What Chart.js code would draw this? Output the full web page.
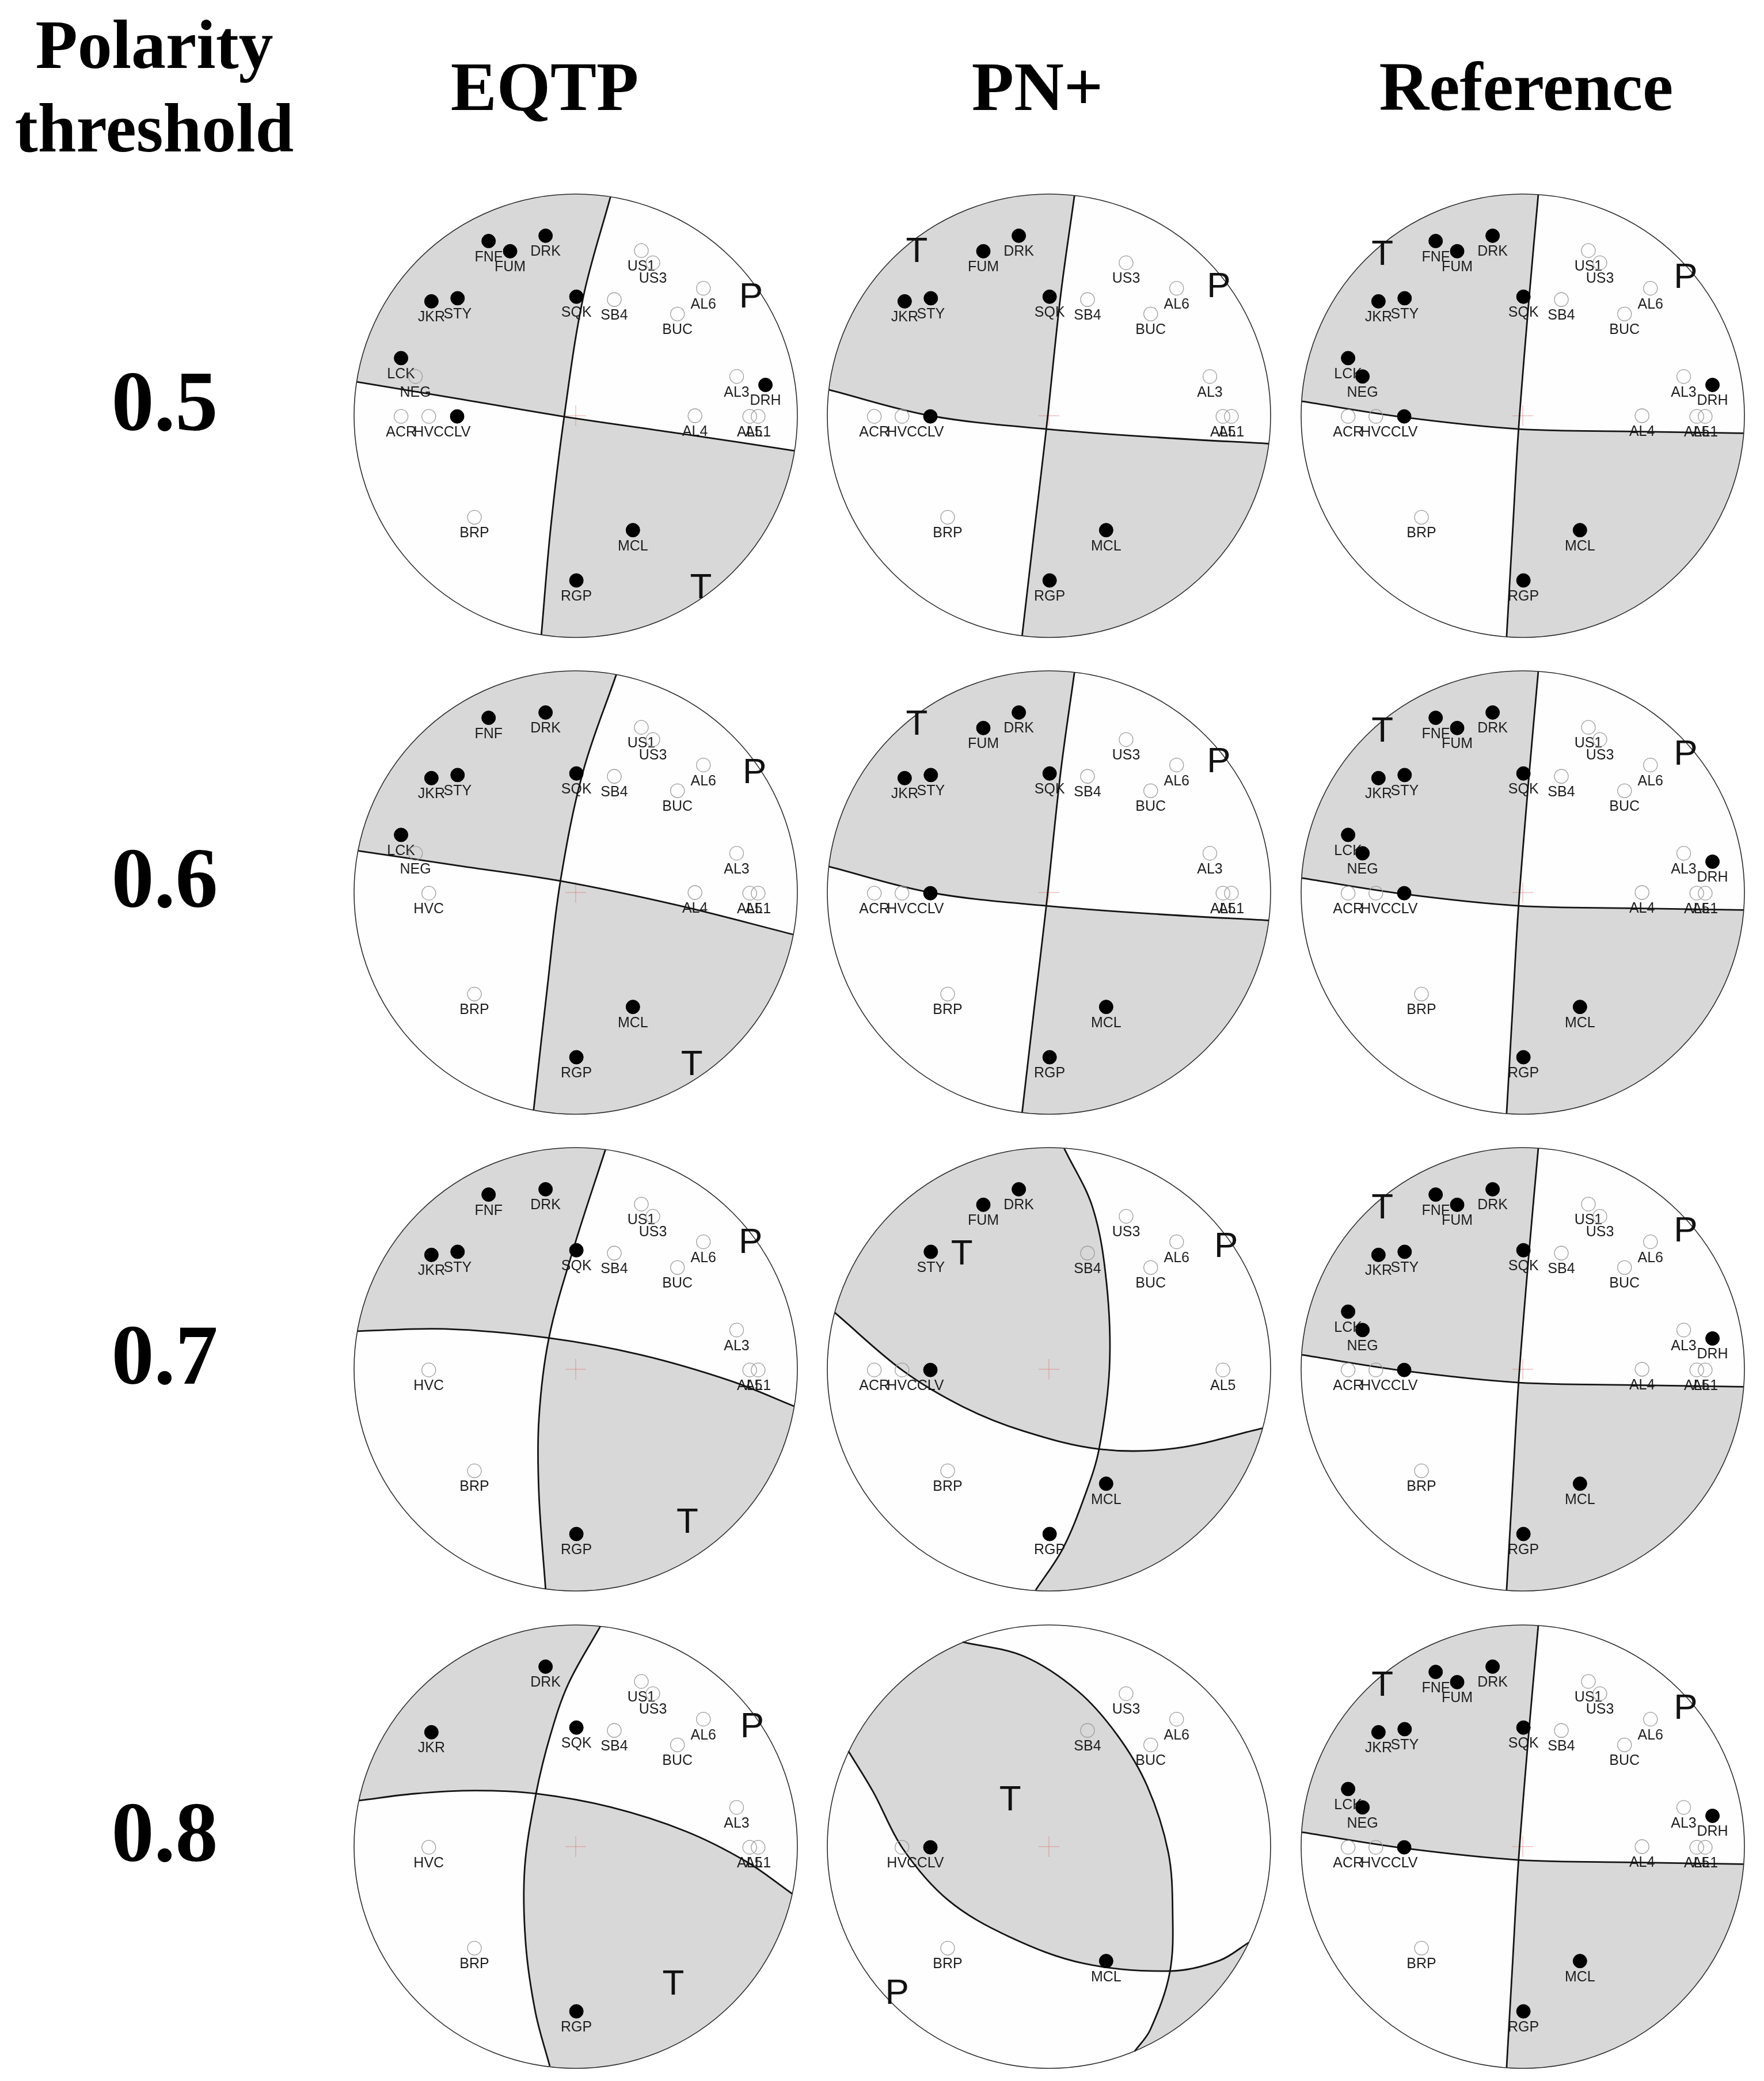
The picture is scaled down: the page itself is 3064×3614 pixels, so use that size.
<!DOCTYPE html>
<html>
<head>
<meta charset="utf-8">
<script src="https://cdn.jsdelivr.net/npm/chart.js@4.4.1/dist/chart.umd.min.js"></script>
<style>
  html, body { margin: 0; padding: 0; background: #fff; overflow: hidden; }
  body { width: 3064px; height: 3614px; position: relative; }
  .hd { position: absolute; font-family: "Liberation Serif", "Times New Roman", serif; font-weight: bold;
        color: #000; white-space: nowrap; line-height: 1; transform: translateX(-50%); }
  .ball { position: absolute; width: 820px; height: 820px; }
</style>
</head>
<body>
<script>
// station positions on the projection (unit radius, north up)
const stationNames = ['FNF','FUM','DRK','JKR','STY','SQK','US1','US3','SB4','AL6','BUC','LCK',
                      'NEG','AL3','DRH','ACR','HVC','CLV','AL4','AL5','AL1','BRP','MCL','RGP'];
const stationX = [-0.393,-0.296,-0.136,-0.651,-0.533,0.003,0.296,0.348,0.174,0.576,0.459,-0.788,
                  -0.723,0.726,0.856,-0.788,-0.663,-0.535,0.538,0.785,0.823,-0.457,0.258,0.003];
const stationY = [0.788,0.742,0.812,0.516,0.530,0.537,0.745,0.690,0.524,0.575,0.459,0.260,
                  0.177,0.177,0.139,-0.003,-0.003,-0.003,0.000,-0.003,-0.003,-0.458,-0.516,-0.743];

const methods = ['EQTP', 'PN+', 'Reference'];
const thresholds = ['0.5', '0.6', '0.7', '0.8'];

// filled = compression, open = dilatation
const eqtpUp = [
  ['FNF','FUM','DRK','JKR','STY','SQK','LCK','DRH','CLV','MCL','RGP'],
  ['FNF','DRK','JKR','STY','SQK','LCK','MCL','RGP'],
  ['FNF','DRK','JKR','STY','SQK','RGP'],
  ['DRK','JKR','SQK','RGP']
];
const eqtpDown = [
  ['US1','US3','SB4','AL6','BUC','NEG','AL3','ACR','HVC','AL4','AL5','AL1','BRP'],
  ['US1','US3','SB4','AL6','BUC','NEG','AL3','HVC','AL4','AL5','AL1','BRP'],
  ['US1','US3','SB4','AL6','BUC','AL3','HVC','AL5','AL1','BRP'],
  ['US1','US3','SB4','AL6','BUC','AL3','AL5','AL1','HVC','BRP']
];
const pnUp = [
  ['FUM','DRK','JKR','STY','SQK','CLV','MCL','RGP'],
  ['FUM','DRK','JKR','STY','SQK','CLV','MCL','RGP'],
  ['FUM','DRK','STY','CLV','MCL','RGP'],
  ['CLV','MCL']
];
const pnDown = [
  ['US3','SB4','AL6','BUC','AL3','AL5','AL1','ACR','HVC','BRP'],
  ['US3','SB4','AL6','BUC','AL3','AL5','AL1','ACR','HVC','BRP'],
  ['US3','SB4','AL6','BUC','AL5','ACR','HVC','BRP'],
  ['US3','SB4','AL6','BUC','HVC','BRP']
];
const refUp = ['FNF','FUM','DRK','JKR','STY','SQK','LCK','NEG','DRH','CLV','MCL','RGP'];
const refDown = ['US1','US3','SB4','AL6','BUC','AL3','ACR','HVC','AL4','AL5','AL1','BRP'];

// nodal planes, traced points along each curve
const eqtpPlaneA = [
  [[0.157,0.988],[0.034,0.535],[-0.052,-0.004],[-0.113,-0.507],[-0.155,-0.988]],
  [[0.183,0.983],[0.033,0.545],[-0.069,0.052],[-0.128,-0.427],[-0.190,-0.982]],
  [[0.134,0.991],[-0.012,0.538],[-0.121,0.141],[-0.166,-0.223],[-0.166,-0.563],[-0.136,-0.991]],
  [[0.111,0.994],[-0.033,0.735],[-0.114,0.504],[-0.179,0.239],[-0.230,-0.094],[-0.226,-0.433],[-0.182,-0.746],[-0.117,-0.990]]
];
const eqtpPlaneB = [
  [[-0.988,0.153],[-0.520,0.075],[-0.052,-0.004],[0.471,-0.080],[0.987,-0.158]],
  [[-0.981,0.188],[-0.522,0.120],[-0.069,0.052],[0.457,-0.057],[0.980,-0.189]],
  [[-0.985,0.172],[-0.590,0.182],[-0.121,0.141],[0.293,0.065],[0.701,-0.053],[0.986,-0.167]],
  [[-0.977,0.208],[-0.726,0.239],[-0.454,0.253],[-0.179,0.239],[0.158,0.178],[0.497,0.069],[0.769,-0.067],[0.977,-0.213]]
];
const pnPlaneA = [
  [[0.115,0.993],[0.052,0.537],[-0.012,-0.060],[-0.067,-0.526],[-0.121,-0.992]],
  [[0.115,0.993],[0.052,0.537],[-0.012,-0.060],[-0.067,-0.526],[-0.121,-0.992]],
  [[0.069,0.996],[0.198,0.727],[0.260,0.387],[0.273,0.007],[0.226,-0.360],[0.164,-0.564],[0.063,-0.808],[-0.060,-0.996]],
  [[-0.390,0.923],[-0.114,0.859],[0.130,0.702],[0.307,0.505],[0.443,0.274],[0.538,-0.024],[0.558,-0.296],[0.545,-0.568],[0.457,-0.826],[0.386,-0.924]]
];
const pnPlaneB = [
  [[-0.993,0.117],[-0.535,0.000],[-0.012,-0.060],[0.497,-0.098],[0.992,-0.126]],
  [[-0.993,0.117],[-0.535,0.000],[-0.012,-0.060],[0.497,-0.098],[0.992,-0.126]],
  [[-0.967,0.256],[-0.658,-0.007],[-0.386,-0.170],[-0.114,-0.279],[0.226,-0.360],[0.565,-0.357],[0.964,-0.266]],
  [[-0.905,0.431],[-0.793,0.247],[-0.658,-0.011],[-0.454,-0.242],[-0.182,-0.405],[0.158,-0.527],[0.552,-0.561],[0.769,-0.514],[0.902,-0.432]]
];
const refPlaneA = [[0.070,0.998],[0.029,0.537],[-0.019,-0.060],[-0.046,-0.526],[-0.073,-0.997]];
const refPlaneB = [[-0.997,0.065],[-0.535,-0.007],[-0.019,-0.060],[0.497,-0.071],[0.997,-0.079]];

// T and P axis label positions
const eqtpT = [[0.565,-0.780],[0.524,-0.780],[0.504,-0.692],[0.440,-0.624]];
const eqtpP = [[0.791,0.533],[0.807,0.538],[0.789,0.568],[0.796,0.538]];
const pnT = [[-0.596,0.738],[-0.596,0.755],[-0.393,0.516],[-0.175,0.207]];
const pnP = [[0.766,0.579],[0.766,0.586],[0.799,0.550],[-0.685,-0.665]];
const refT = [-0.633,0.724];
const refP = [0.735,0.622];

// page layout
const colX = [1000, 1822, 2645];
const rowY = [722, 1550, 2378, 3207];
const R_PX = 385, HALF = 410, LIM = HALF / R_PX;

// headers
function addText(txt, cx, top, size) {
  const d = document.createElement('div');
  d.className = 'hd';
  d.textContent = txt;
  d.style.left = cx + 'px';
  d.style.top = top + 'px';
  d.style.fontSize = size + 'px';
  document.body.appendChild(d);
}
addText('Polarity', 268, 18, 120);
addText('threshold', 268, 163, 120);
const headX = [946, 1802, 2651];
methods.forEach((m, i) => addText(m, headX[i], 91, 120));
thresholds.forEach((t, i) => addText(t, 286, rowY[i] + 25 - 124, 148));

function stationPts(names) {
  return names.map(n => {
    const i = stationNames.indexOf(n);
    return { x: stationX[i], y: stationY[i], name: n };
  });
}
function xy(pairs) { return pairs.map(p => ({ x: p[0], y: p[1] })); }

const ballPlugin = {
  id: 'ball',
  beforeDatasetsDraw(chart) {
    const cfg = chart.options.plugins.ball;
    const ctx = chart.ctx;
    const xs = chart.scales.x, ys = chart.scales.y;
    const cx = xs.getPixelForValue(0), cy = ys.getPixelForValue(0);
    const r = xs.getPixelForValue(1) - cx;

    ctx.save();
    ctx.beginPath();
    ctx.arc(cx, cy, r, 0, Math.PI * 2);
    ctx.fillStyle = '#fefefe';
    ctx.fill();
    ctx.clip();

    // each plane closes along the rim; the xor of both sides gives the quadrants
    const region = new Path2D();
    chart.data.datasets.forEach((ds, i) => {
      if (ds.role !== 'plane') return;
      const line = chart.getDatasetMeta(i).dataset;
      line.updateControlPoints(chart.chartArea, 'x');
      line.path(region);
      const pts = line.points;
      const a0 = Math.atan2(pts[0].y - cy, pts[0].x - cx);
      const a1 = Math.atan2(pts[pts.length - 1].y - cy, pts[pts.length - 1].x - cx);
      region.arc(cx, cy, r + 3, a1, a0);
      region.closePath();
    });
    const tx = xs.getPixelForValue(cfg.t[0]), ty = ys.getPixelForValue(cfg.t[1]);
    if (!ctx.isPointInPath(region, tx, ty, 'evenodd')) {
      region.moveTo(cx + r + 3, cy);
      region.arc(cx, cy, r + 3, 0, Math.PI * 2);
      region.closePath();
    }
    ctx.fillStyle = '#d8d8d8';
    ctx.fill(region, 'evenodd');
    ctx.restore();

    // station names under the symbols
    ctx.save();
    ctx.font = '25px "Liberation Sans", Arial, sans-serif';
    ctx.fillStyle = '#1e1e1e';
    ctx.textAlign = 'center';
    ctx.textBaseline = 'middle';
    cfg.stations.forEach(s => {
      ctx.fillText(s.name, xs.getPixelForValue(s.x), ys.getPixelForValue(s.y) + 28);
    });
    ctx.restore();
  },
  afterDatasetsDraw(chart) {
    const cfg = chart.options.plugins.ball;
    const ctx = chart.ctx;
    const xs = chart.scales.x, ys = chart.scales.y;
    const cx = xs.getPixelForValue(0), cy = ys.getPixelForValue(0);
    const r = xs.getPixelForValue(1) - cx;
    ctx.save();
    ctx.beginPath();
    ctx.arc(cx, cy, r, 0, Math.PI * 2);
    ctx.strokeStyle = '#2a2a2a';
    ctx.lineWidth = 1.6;
    ctx.stroke();
    ctx.font = '62px "Liberation Sans", Arial, sans-serif';
    ctx.fillStyle = '#111';
    ctx.textAlign = 'center';
    ctx.textBaseline = 'middle';
    ctx.fillText('T', xs.getPixelForValue(cfg.t[0]), ys.getPixelForValue(cfg.t[1]));
    ctx.fillText('P', xs.getPixelForValue(cfg.p[0]), ys.getPixelForValue(cfg.p[1]));
    ctx.restore();
  }
};

const panels = [];
thresholds.forEach((t, r) => {
  panels.push({ col: 0, row: r, up: eqtpUp[r], down: eqtpDown[r], a: eqtpPlaneA[r], b: eqtpPlaneB[r], t: eqtpT[r], p: eqtpP[r] });
  panels.push({ col: 1, row: r, up: pnUp[r], down: pnDown[r], a: pnPlaneA[r], b: pnPlaneB[r], t: pnT[r], p: pnP[r] });
  panels.push({ col: 2, row: r, up: refUp, down: refDown, a: refPlaneA, b: refPlaneB, t: refT, p: refP });
});

panels.forEach(pn => {
  const div = document.createElement('div');
  div.className = 'ball';
  div.style.left = (colX[pn.col] - HALF) + 'px';
  div.style.top = (rowY[pn.row] - HALF) + 'px';
  const cv = document.createElement('canvas');
  cv.width = 2 * HALF;
  cv.height = 2 * HALF;
  div.appendChild(cv);
  document.body.appendChild(div);

  const up = stationPts(pn.up), down = stationPts(pn.down);
  const planeStyle = { type: 'line', role: 'plane', borderColor: '#141414', borderWidth: 2.8,
                       pointRadius: 0, tension: 0.35, fill: false };

  new Chart(cv, {
    type: 'scatter',
    data: {
      datasets: [
        { data: up, pointRadius: 12, backgroundColor: '#000', borderColor: '#000', borderWidth: 1, order: 1 },
        { data: down, pointRadius: 12, backgroundColor: 'rgba(0,0,0,0)', borderColor: '#9c9c9c', borderWidth: 1.3, order: 2 },
        Object.assign({ data: xy(pn.a), order: 3 }, planeStyle),
        Object.assign({ data: xy(pn.b), order: 4 }, planeStyle),
        { data: [{ x: 0, y: 0 }], pointStyle: 'cross', pointRadius: 18, borderColor: 'rgba(225,100,100,0.6)',
          borderWidth: 1, order: 5 }
      ]
    },
    options: {
      responsive: false,
      animation: false,
      devicePixelRatio: 1,
      events: [],
      layout: { padding: 0, autoPadding: false },
      scales: {
        x: { type: 'linear', min: -LIM, max: LIM, display: false },
        y: { type: 'linear', min: -LIM, max: LIM, display: false }
      },
      plugins: {
        legend: { display: false },
        tooltip: { enabled: false },
        ball: { t: pn.t, p: pn.p, stations: up.concat(down) }
      }
    },
    plugins: [ballPlugin]
  });
});
</script>
</body>
</html>
